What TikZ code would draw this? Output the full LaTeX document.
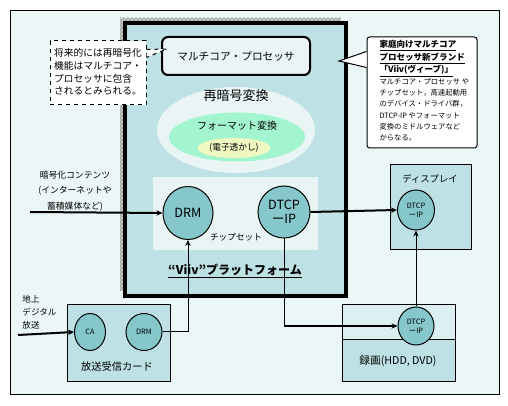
\documentclass[tikz,border=0pt]{standalone}
\usepackage{fontspec}
\setmainfont{Noto Sans CJK JP}
\usetikzlibrary{shapes.geometric,arrows.meta,patterns,calc}

\definecolor{outbg}{HTML}{EBF6F6}
\definecolor{platbg}{HTML}{BDE1E4}
\definecolor{lightbg}{HTML}{E9F5F5}
\definecolor{mintbg}{HTML}{A3F5CF}
\definecolor{lemonbg}{HTML}{EEF8C0}
\definecolor{recupbg}{HTML}{DCEFF2}
\definecolor{discbg}{HTML}{86C7CB}

\tikzset{every picture/.style={line width=0.75pt}}
\tikzset{
  disc/.style={ellipse,draw,fill=discbg,inner sep=0pt},
  unitbox/.style={rectangle,draw,fill=platbg,inner sep=0pt},
  feed/.style={-{Stealth[length=4.5pt,width=4pt]},line width=1.5pt},
  thinfeed/.style={-{Stealth[length=4.5pt,width=4pt]}},
}

\begin{document}
\begin{tikzpicture}[x=0.75pt,y=0.75pt,yscale=-1,xscale=1]
    \useasboundingbox (0,0) rectangle (508,406);
    \fill[white] (0,0) rectangle (508,406);
    % Outer frame
    \draw[fill=outbg] (10,11) rectangle (499,395);
    % Platform shadow and box
    \fill[gray!45] (120,18) rectangle (341,291);
    \fill[pattern=crosshatch dots,pattern color=gray!60!black] (120,18) rectangle (341,291);
    \draw[line width=3pt,fill=platbg] (125,23) rectangle (346,296);
    % Multicore processor
    \node[rectangle,draw,line width=1.5pt,rounded corners=4.5pt,fill=lightbg,minimum width=111pt,minimum height=28.5pt,font=\fontsize{8pt}{9pt}\selectfont] (mcp) at (236,56) {マルチコア・プロセッサ};
    % Re-encryption ellipses
    \node[ellipse,fill=lightbg,minimum width=118.5pt,minimum height=64.5pt] (recrypt) at (236,130) {};
    \node[font=\fontsize{9.75pt}{11pt}\selectfont] (recryptlbl) at (236,96) {再暗号変換};
    \node[ellipse,fill=mintbg,minimum width=102pt,minimum height=36.75pt] (fmt) at (237,137) {};
    \node[font=\fontsize{7.5pt}{9pt}\selectfont] (fmtlbl) at (237,126) {フォーマット変換};
    \node[ellipse,fill=lemonbg,minimum width=54.75pt,minimum height=15pt,inner sep=0pt,font=\fontsize{6.5pt}{8pt}\selectfont] (wmark) at (234,148) {(電子透かし)};
    % Chipset
    \node[rectangle,fill=lightbg,minimum width=123.75pt,minimum height=54.75pt,inner sep=0pt] (chip) at (235.5,213.5) {};
    \node[font=\fontsize{6.5pt}{8pt}\selectfont] (chiplbl) at (236,237) {チップセット};
    \node[disc,minimum width=37.5pt,minimum height=39.75pt,font=\fontsize{9.5pt}{11pt}\selectfont] (drm) at (188,213) {DRM};
    \node[disc,minimum width=39pt,minimum height=39pt,align=center,font=\fontsize{9.5pt}{10.5pt}\selectfont] (dtcp) at (284,212) {DTCP\\ーIP};
    \node[font=\bfseries\fontsize{9pt}{11pt}\selectfont] (platlbl) at (235,271) {\underline{“Viiv”プラットフォーム}};
    % Left note
    \node[rectangle,draw,dashed,fill=white,minimum width=72pt,minimum height=48pt,inner sep=0pt] (futnote) at (98,73) {};
    \coordinate (futtip) at (167,49);
    \draw[dashed,fill=white] ($(futnote.north east)+(0,9)$) -- (futtip) -- ($(futnote.north east)+(0,17)$);
    \node[align=left,font=\fontsize{7.3pt}{9.5pt}\selectfont] (futtext) at (98,72) {将来的には再暗号化\\機能はマルチコア・\\プロセッサに包含\\されるとみられる。};
    % Right note
    \node[rectangle,draw,rounded corners=2pt,fill=white,minimum width=82.5pt,minimum height=83.25pt,inner sep=0pt] (brand) at (422,92.5) {};
    \coordinate (brandtip) at (339,61);
    \draw[fill=white] ($(brand.north west)+(0,15)$) -- (brandtip) -- ($(brand.north west)+(0,31)$);
    \node[anchor=north west,align=left,inner sep=0pt,font=\bfseries\fontsize{6.4pt}{9.4pt}\selectfont] (brandhead) at (379,40) {\underline{家庭向けマルチコア}\\\underline{プロセッサ新ブランド}\\\underline{「Viiv(ヴィーブ)」}};
    \node[anchor=north west,align=left,inner sep=0pt,font=\fontsize{5.5pt}{8.4pt}\selectfont] (brandbody) at (379,78) {マルチコア・プロセッサ や\\チップセット，高速起動用\\のデバイス・ドライバ群，\\DTCP-IP やフォーマット\\変換のミドルウェアなど\\からなる。};
    % Encrypted content input
    \node[align=center,font=\fontsize{6.6pt}{11.5pt}\selectfont] (enclbl) at (75,191) {暗号化コンテンツ\\(インターネットや\\蓄積媒体など)};
    \coordinate (encin) at (30,212);
    \draw[feed] (encin) -- (drm.west);
    % Display
    \node[unitbox,minimum width=60.75pt,minimum height=63.75pt] (disp) at (430.5,207.5) {};
    \node[font=\fontsize{7pt}{8pt}\selectfont] (displbl) at (430,179) {ディスプレイ};
    \node[disc,minimum width=27.75pt,minimum height=30pt,align=center,font=\fontsize{5.5pt}{7pt}\selectfont] (dispdtcp) at (416,210) {DTCP\\ーIP};
    % Recorder
    \fill[recupbg] (342,305) rectangle (455,340);
    \fill[platbg] (342,340) rectangle (455,382);
    \draw (342,305) rectangle (455,382);
    \draw (342,340) -- (455,340);
    \node[font=\fontsize{8pt}{9pt}\selectfont] (reclbl) at (398,361) {録画(HDD, DVD)};
    \node[disc,minimum width=27pt,minimum height=28.5pt,align=center,font=\fontsize{5.5pt}{7pt}\selectfont] (recdtcp) at (416,326) {DTCP\\ーIP};
    % Broadcast card
    \node[unitbox,minimum width=77.25pt,minimum height=57.75pt] (card) at (118.5,343.5) {};
    \node[font=\fontsize{7.7pt}{9pt}\selectfont] (cardlbl) at (117,367) {放送受信カード};
    \node[disc,minimum width=23.25pt,minimum height=27.75pt,font=\fontsize{5.5pt}{7pt}\selectfont] (ca) at (90,332) {CA};
    \node[disc,minimum width=27pt,minimum height=27.75pt,font=\fontsize{5.5pt}{7pt}\selectfont] (carddrm) at (144,332) {DRM};
    \node[anchor=north west,align=left,inner sep=0pt,font=\fontsize{6.4pt}{9.75pt}\selectfont] (bclbl) at (22,295) {地上\\デジタル\\放送};
    \coordinate (bcin) at (18,335);
    \draw[feed] (bcin) -- (ca.west);
    % Connections
    \draw[thinfeed] (carddrm.east) -| (drm.south);
    \draw[feed] (dtcp.east) -- (dispdtcp.west);
    \coordinate (dtcpturn) at (dtcp.south |- recdtcp.west);
    \draw (dtcp.south) -- (dtcpturn);
    \draw[feed] (dtcpturn) -- (recdtcp.west);
    \draw[thinfeed] (recdtcp.north) -- (dispdtcp.south);
\end{tikzpicture}
\end{document}
